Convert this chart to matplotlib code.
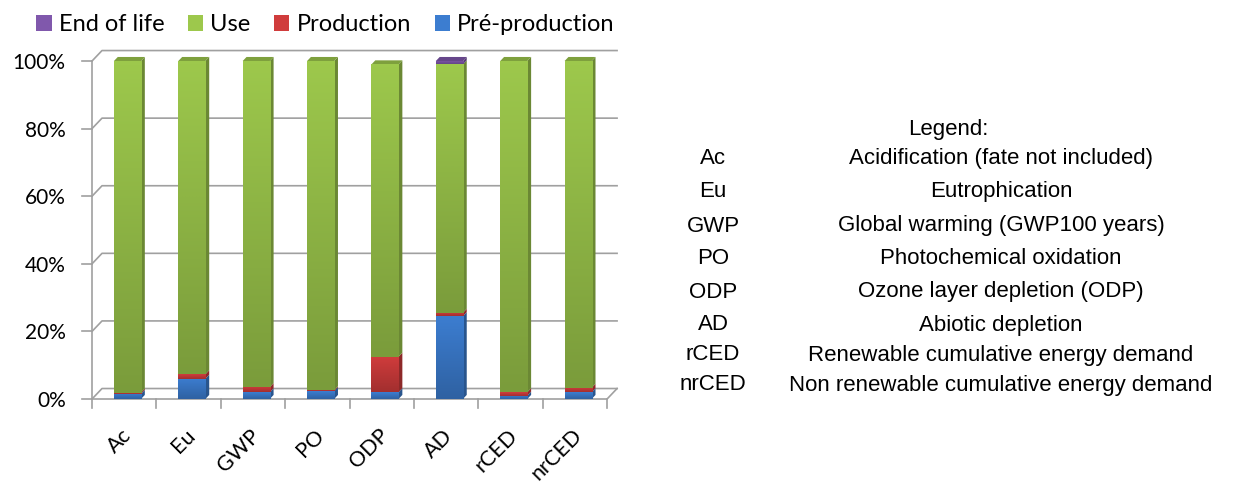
import numpy as np
import matplotlib.pyplot as plt
from matplotlib.patches import Polygon
from matplotlib.colors import to_rgb, LinearSegmentedColormap

categories = ['Ac', 'Eu', 'GWP', 'PO', 'ODP', 'AD', 'rCED', 'nrCED']
pre_production = [1.5, 6.0, 2.0, 2.3, 2.0, 24.5, 1.0, 2.0]
production = [0.4, 1.3, 1.5, 0.3, 10.5, 1.0, 1.0, 1.3]
use = [98.1, 92.7, 96.5, 97.4, 86.5, 73.5, 98.0, 96.7]
end_of_life = [0.0, 0.0, 0.0, 0.0, 0.0, 1.0, 0.0, 0.0]

series = [('Pré-production', pre_production, '#3C7DD0'),
          ('Production', production, '#D03C3C'),
          ('Use', use, '#9DC84C'),
          ('End of life', end_of_life, '#8058AC')]

abbrevs = ['Ac', 'Eu', 'GWP', 'PO', 'ODP', 'AD', 'rCED', 'nrCED']
meanings = ['Acidification (fate not included)', 'Eutrophication',
            'Global warming (GWP100 years)', 'Photochemical oxidation',
            'Ozone layer depletion (ODP)', 'Abiotic depletion',
            'Renewable cumulative energy demand',
            'Non renewable cumulative energy demand']


def shade(c, f):
    r, g, b = to_rgb(c)
    return (r * f, g * f, b * f)


fig = plt.figure(figsize=(12.42, 4.82), dpi=100)
ax = fig.add_axes([0.0741, 0.1722, 0.4147, 0.7012])
x = np.arange(len(categories))
width = 0.42
shift = 0.05
# depth of the pseudo-3d look, in data units
sdx, sdy = 0.06, 1.2
wdx, wdy = 0.155, 3.1
grid_col = '#A0A0A0'
lw = 1.2

# back wall gridlines, floor and axis ticks
for v in range(0, 101, 20):
    ax.plot([-0.5, -0.5 + wdx, 7.5 + wdx], [v, v + wdy, v + wdy],
            color=grid_col, lw=lw, clip_on=False, zorder=1)
    ax.plot([-0.655, -0.5], [v, v], color=grid_col, lw=lw, clip_on=False)
ax.plot([-0.5, 7.5, 7.5 + wdx], [0, 0, wdy], color=grid_col, lw=lw,
        clip_on=False, zorder=1)
ax.plot([-0.5, -0.5], [0, 100], color=grid_col, lw=lw, clip_on=False, zorder=1)
for b in np.arange(-0.5, 7.6, 1.0):
    ax.plot([b, b], [0, -2.7], color=grid_col, lw=lw, clip_on=False)

grad = np.linspace(0, 1, 64).reshape(-1, 1)
bottom = np.zeros(len(categories))
handles = {}
for name, vals, col in series:
    vals = np.array(vals)
    bars = ax.bar(x + shift, vals, width, bottom=bottom, color=col, zorder=3,
                  linewidth=0)
    handles[name] = bars
    cmap = LinearSegmentedColormap.from_list(name, [shade(col, 0.78), col])
    for rect, xi, b, v in zip(bars, x + shift, bottom, vals):
        if v <= 0:
            continue
        l, r = xi - width / 2, xi + width / 2
        im = ax.imshow(grad, extent=[l, r, b, b + v], origin='lower', aspect='auto',
                       cmap=cmap, zorder=3.1, interpolation='bilinear')
        im.set_clip_path(rect)
        side = Polygon([(r, b), (r + sdx, b + sdy), (r + sdx, b + v + sdy), (r, b + v)],
                       closed=True, facecolor=shade(col, 0.68), edgecolor='none',
                       zorder=3, clip_on=False)
        ax.add_patch(side)
    bottom = bottom + vals

# top faces of the stacks
for i, t in enumerate(bottom):
    l = x[i] + shift - width / 2
    top_col = [c for n, v, c in series if v[i] > 0][-1]
    ax.add_patch(Polygon([(l, t), (l + sdx, t + sdy), (l + width + sdx, t + sdy),
                          (l + width, t)], closed=True, facecolor=shade(top_col, 0.8),
                         edgecolor='none', zorder=3, clip_on=False))

ax.set_xlim(-0.5, 7.5)
ax.set_ylim(0, 100)
ax.set_yticks(range(0, 101, 20))
ax.set_yticklabels([f'{v}%' for v in range(0, 101, 20)], family='Lato', fontsize=15)
ax.set_xticks(x - 0.05)
ax.set_xticklabels(categories, rotation=45, ha='right', rotation_mode='anchor',
                   family='Lato', fontsize=15.5)
ax.tick_params(axis='y', length=0, pad=19)
ax.tick_params(axis='x', length=0, pad=19)
for s in ax.spines.values():
    s.set_visible(False)

order = ['End of life', 'Use', 'Production', 'Pré-production']
fig.legend([handles[n] for n in order], order,
           loc='upper left', bbox_to_anchor=(0.012, 1.015), ncol=4, frameon=False,
           prop={'family': 'Lato', 'size': 17}, handlelength=0.65, handleheight=0.65,
           handletextpad=0.3, columnspacing=1.0)

fig.text(908 / 1242, 1 - 130 / 482, 'Legend:', ha='left', va='center',
         family='Liberation Sans', fontsize=16)
rows_y = [159, 192, 226, 259, 292, 325, 355, 385]
for ab, m, yy in zip(abbrevs, meanings, rows_y):
    fig.text(713 / 1242, 1 - yy / 482, ab, ha='center', va='center',
             family='Liberation Sans', fontsize=16)
    fig.text(1001 / 1242, 1 - yy / 482, m, ha='center', va='center',
             family='Liberation Sans', fontsize=16)

fig.savefig('out.png', dpi=100)
